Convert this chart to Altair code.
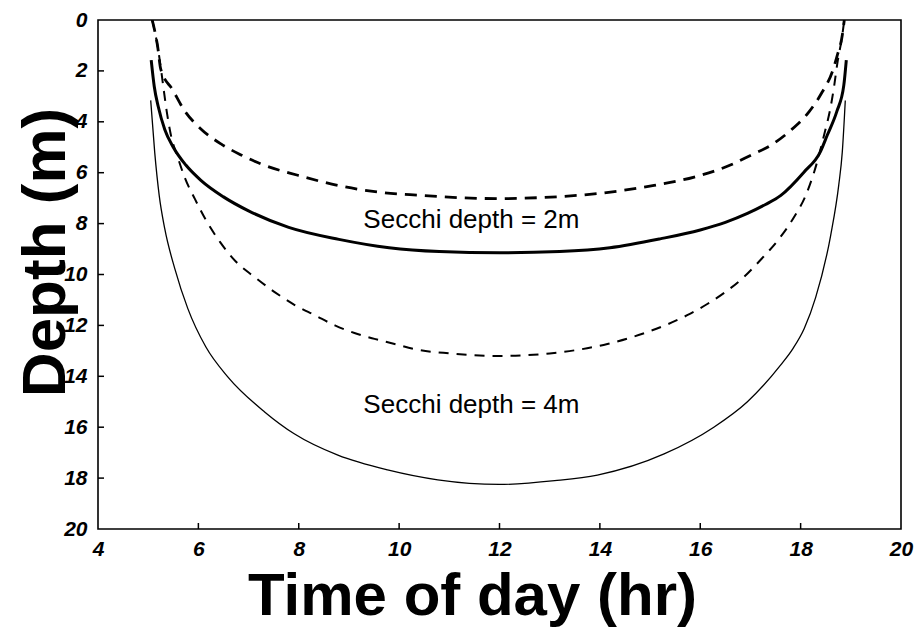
import altair as alt
import pandas as pd

# Secchi depth = 2 m, solid (thick)
s2_solid_t = [5.06, 5.12, 5.20, 5.33, 5.50, 5.75, 6.05, 6.50, 7.00, 7.80, 8.80, 9.80, 10.80, 12.00,
              13.20, 14.20, 15.20, 16.00, 16.50, 16.94, 17.30, 17.60, 18.07, 18.39, 18.53, 18.72,
              18.86, 18.91]
s2_solid_d = [1.58, 2.60, 3.40, 4.30, 5.00, 5.70, 6.30, 6.95, 7.50, 8.15, 8.62, 8.95, 9.10, 9.15,
              9.10, 8.95, 8.60, 8.25, 7.95, 7.60, 7.25, 6.90, 5.97, 5.19, 4.53, 3.60,
              2.57, 1.58]

# Secchi depth = 2 m, dashed
s2_dash_t = [5.08, 5.19, 5.25, 5.49, 5.72, 6.05, 6.45, 6.85, 7.25, 7.98, 8.78, 9.57, 10.43, 11.20,
             12.00, 12.80, 13.95, 15.08, 15.88, 16.60, 17.00, 17.40, 17.80, 18.17, 18.43, 18.63,
             18.73, 18.83, 18.87]
s2_dash_d = [0.00, 1.06, 1.93, 2.75, 3.55, 4.28, 4.87, 5.30, 5.66, 6.10, 6.50, 6.76, 6.89, 6.98,
             7.02, 6.98, 6.82, 6.50, 6.17, 5.70, 5.32, 4.93, 4.34, 3.60, 2.83, 2.04,
             1.39, 0.60, 0.00]

# Secchi depth = 4 m, solid (thin)
s4_solid_t = [5.05, 5.13, 5.22, 5.33, 5.53, 5.79, 6.15, 6.59, 7.32, 7.91, 8.78, 9.77, 10.77, 12.00,
              13.10, 13.95, 15.28, 16.27, 16.94, 17.60, 17.85, 18.07, 18.30, 18.60, 18.76, 18.83,
              18.89]
s4_solid_d = [3.16, 5.20, 6.90, 8.20, 9.77, 11.34, 12.85, 14.03, 15.40, 16.26, 17.10, 17.68, 18.07,
              18.25, 18.10, 17.88, 17.05, 16.00, 15.00, 13.56, 12.90, 12.13, 10.90, 8.45, 6.48, 5.19,
              3.16]

# Secchi depth = 4 m, dashed
s4_dash_t = [5.08, 5.19, 5.26, 5.31, 5.37, 5.45, 5.59, 5.73, 5.93, 6.15, 6.43, 6.75, 7.12, 7.52,
             7.92, 8.32, 8.72, 9.11, 9.51, 9.91, 10.30, 11.00, 12.00, 13.00, 14.15, 14.95, 15.74,
             16.14, 16.50, 16.87, 17.20, 17.57, 17.87, 18.10, 18.27, 18.49, 18.59, 18.67, 18.73,
             18.83, 18.87]
s4_dash_d = [0.00, 1.06, 2.00, 2.75, 3.60, 4.50, 5.40, 6.20, 7.03, 7.86, 8.72, 9.50, 10.10, 10.69,
             11.20, 11.60, 12.00, 12.30, 12.53, 12.73, 12.93, 13.10, 13.20, 13.10, 12.73, 12.26, 11.60,
             11.16, 10.69, 10.10, 9.43, 8.60, 7.74, 6.90, 5.97, 4.34, 3.50, 2.57, 1.72,
             0.60, 0.00]

label_text = ["Secchi depth = 2m", "Secchi depth = 4m"]
label_t = [11.44, 11.44]
label_d = [8.16, 15.45]

x_ticks = [4, 6, 8, 10, 12, 14, 16, 18, 20]
y_ticks = [0, 2, 4, 6, 8, 10, 12, 14, 16, 18, 20]
x_inner_ticks = [6, 8, 10, 12, 14, 16, 18]
y_inner_ticks = [2, 4, 6, 8, 10, 12, 14, 16, 18]

rows = []
for name, ts, ds in [("s2_solid", s2_solid_t, s2_solid_d),
                     ("s2_dash", s2_dash_t, s2_dash_d),
                     ("s4_solid", s4_solid_t, s4_solid_d),
                     ("s4_dash", s4_dash_t, s4_dash_d)]:
    for t, d in zip(ts, ds):
        rows.append({"series": name, "t": t, "d": d})
df = pd.DataFrame(rows)
labels_df = pd.DataFrame({"text": label_text, "t": label_t, "d": label_d})
xt_df = pd.DataFrame({"t": x_inner_ticks})
yt_df = pd.DataFrame({"d": y_inner_ticks})

FONT = "Liberation Sans"
xscale = alt.Scale(domain=[4, 20], nice=False, zero=False)
yscale = alt.Scale(domain=[0, 20], nice=False, reverse=True, zero=False)

xaxis = alt.Axis(values=x_ticks, title="Time of day (hr)", grid=False, domain=False,
                 ticks=False, tickSize=0, labelPadding=9, labelFlush=False,
                 labelFont=FONT, labelFontSize=21, labelFontStyle="italic",
                 labelFontWeight="bold", labelColor="black",
                 titleFont=FONT, titleFontSize=60, titleFontWeight="bold", titleColor="black",
                 titleX=374, titleY=85, titleAlign="center", titleBaseline="alphabetic",
                 titleAngle=0)
yaxis = alt.Axis(values=y_ticks, title="Depth (m)", grid=False, domain=False,
                 ticks=False, tickSize=0, labelPadding=11, labelFlush=False,
                 labelFont=FONT, labelFontSize=21, labelFontStyle="italic",
                 labelFontWeight="bold", labelColor="black",
                 titleFont=FONT, titleFontSize=62, titleFontWeight="bold", titleColor="black",
                 titleX=-34, titleY=232, titleAlign="center", titleBaseline="alphabetic",
                 titleAngle=270)

X = alt.X("t:Q", scale=xscale, axis=xaxis, title="Time of day (hr)")
Y = alt.Y("d:Q", scale=yscale, axis=yaxis, title="Depth (m)")

base = alt.Chart(df)

def line_layer(name, width, dash=None):
    kw = dict(color="black", strokeWidth=width, interpolate="monotone", clip=True)
    if dash:
        kw["strokeDash"] = dash
    return base.transform_filter(alt.datum.series == name).mark_line(**kw).encode(x=X, y=Y)

l1 = line_layer("s2_solid", 3.0)
l2 = line_layer("s2_dash", 2.8, dash=[12, 8])
l3 = line_layer("s4_solid", 1.3)
l4 = line_layer("s4_dash", 2.0, dash=[10, 8])

texts = alt.Chart(labels_df).mark_text(font=FONT, fontSize=26, color="black",
                                       align="center", baseline="alphabetic").encode(
    x=X, y=Y, text="text:N",
)

xt_rules = alt.Chart(xt_df).mark_rule(color="black", strokeWidth=1.5).encode(
    x=X, y=alt.value(509), y2=alt.value(503),
)
yt_rules = alt.Chart(yt_df).mark_rule(color="black", strokeWidth=1.5).encode(
    y=Y, x=alt.value(0), x2=alt.value(6),
)

chart = alt.layer(l1, l2, l3, l4, texts, xt_rules, yt_rules).properties(
    width=803, height=509,
    background="white",
    autosize=alt.AutoSizeParams(type="none"),
    padding={"left": 90, "top": 12, "right": 13, "bottom": 98},
).configure_view(stroke="black", strokeWidth=1.6)

chart.save("out.html", embed_options={"renderer": "svg", "actions": False})
